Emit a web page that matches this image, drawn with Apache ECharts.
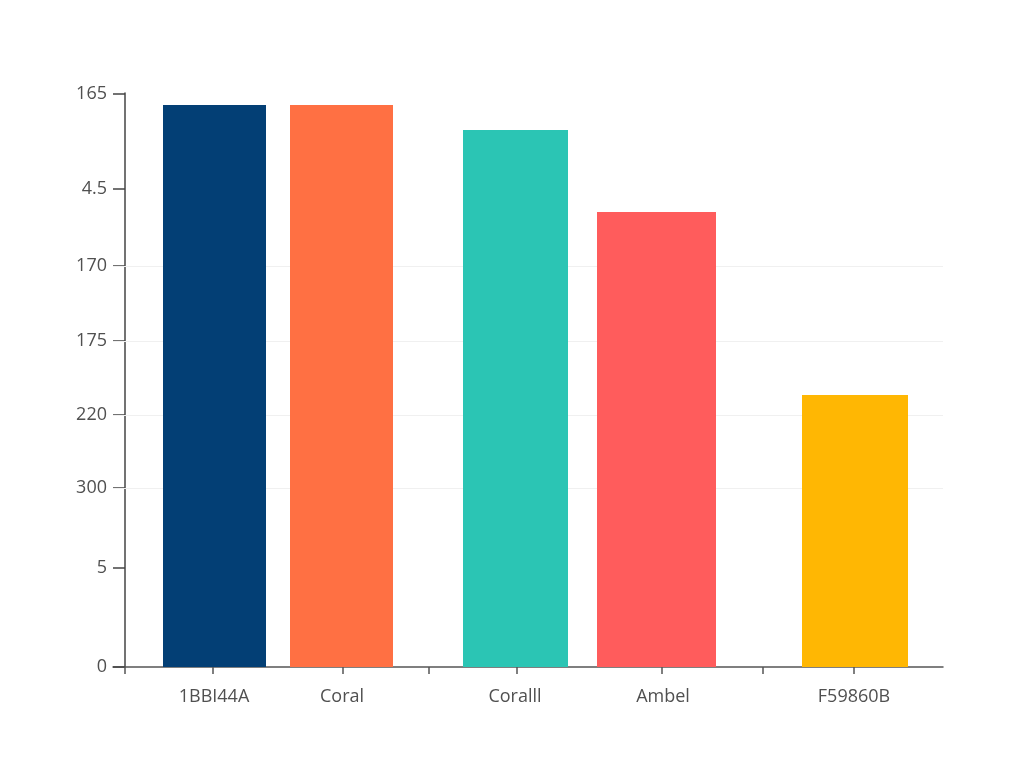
<!DOCTYPE html>
<html>
<head>
<meta charset="utf-8">
<script src="https://cdn.jsdelivr.net/npm/echarts@6/dist/echarts.min.js"></script>
<style>
html,body{margin:0;padding:0;background:#fff;}
#chart{width:1024px;height:768px;}
</style>
</head>
<body>
<div id="chart"></div>
<script>
// ---- data ----
const categories = ['1BBI44A', 'Coral', 'Coralll', 'Ambel', 'F59860B'];
const values = [562, 562, 537, 455, 272];
const barColors = ['#033F75', '#FF7043', '#2BC5B4', '#FF5C5C', '#FFB703'];
// y-axis tick labels (as printed) and where they sit on the axis
const yTickLabels = ['0', '5', '300', '220', '175', '170', '4.5', '165'];
const yTickValues = [0, 99, 179, 252, 326, 401, 478, 573];
const gridLineValues = [179, 252, 326, 401];
// x layout (irregular spacing in the reference)
const xCenters = [89.5, 216.5, 390.5, 531.5, 730];
const xWidths = [103, 103, 105, 119, 106];
const xLabelValues = [89, 217, 390, 538, 729];
const xTickValues = [0, 88, 218, 304, 392, 537, 638, 729];

const chart = echarts.init(document.getElementById('chart'));
const font = '"Open Sans", "Noto Sans", sans-serif';
const seriesData = categories.map((c, i) => [xCenters[i], values[i], i]);

chart.setOption({
  animation: false,
  backgroundColor: '#ffffff',
  grid: { left: 113, right: 81, top: 93, bottom: 101, containLabel: false },
  xAxis: {
    type: 'value', min: -12, max: 818,
    axisLine: { show: true, onZero: true, lineStyle: { color: '#555', width: 1.5 } },
    axisTick: { show: true, length: 7, customValues: xTickValues, lineStyle: { color: '#555', width: 1.5 } },
    axisLabel: {
      customValues: xLabelValues, margin: 21,
      color: '#505050', fontSize: 18, fontFamily: font,
      formatter: v => categories[xLabelValues.indexOf(v)] || ''
    },
    splitLine: { show: false }
  },
  yAxis: {
    type: 'value', min: 0, max: 574,
    axisLine: { show: true, onZero: true, lineStyle: { color: '#444', width: 1.5 } },
    axisTick: { show: true, length: 12, customValues: yTickValues, lineStyle: { color: '#444', width: 1.5 } },
    axisLabel: {
      customValues: yTickValues, margin: 6,
      color: '#505050', fontSize: 18, fontFamily: font,
      formatter: v => yTickLabels[yTickValues.indexOf(v)] || ''
    },
    splitLine: { show: false }
  },
  series: [{
    type: 'custom',
    data: seriesData,
    encode: { x: 0, y: 1 },
    z: 2,
    renderItem: function (params, api) {
      const i = api.value(2);
      const top = api.coord([api.value(0), api.value(1)]);
      const base = api.coord([api.value(0), 0]);
      const w = api.size([xWidths[i], 0])[0];
      return {
        type: 'rect',
        shape: { x: top[0] - w / 2, y: top[1], width: w, height: base[1] - top[1] },
        style: { fill: barColors[i] }
      };
    },
    markLine: {
      silent: true, symbol: 'none', z: 1,
      label: { show: false },
      lineStyle: { color: '#f0f0f0', width: 1, type: 'solid' },
      data: gridLineValues.map(v => ({ yAxis: v }))
    }
  }]
});
</script>
</body>
</html>
